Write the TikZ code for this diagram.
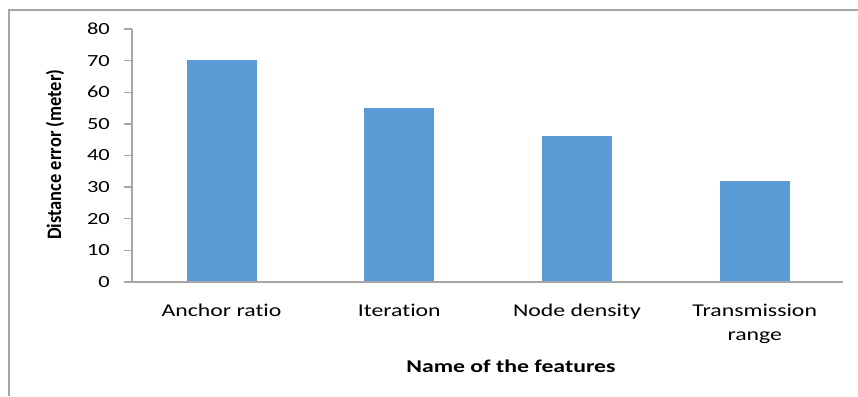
\documentclass[tikz,border=0pt]{standalone}
\usepackage{fontspec}
\setmainfont{Carlito}
\newfontfamily\widefont{Carlito}[FakeStretch=1.32,Ligatures=CommonOff]
\newfontfamily\narrowfont{Carlito}[FakeStretch=0.9,Ligatures=CommonOff]
\usetikzlibrary{positioning}
\definecolor{barblue}{RGB}{91,155,213}
\definecolor{axisgray}{RGB}{166,166,166}

\begin{document}
\begin{tikzpicture}[x=1pt,y=1pt,
    axisline/.style={draw=axisgray,line width=1.3pt},
    databar/.style={fill=barblue,inner sep=0pt,minimum width=70pt,anchor=south},
    ticklbl/.style={font=\widefont\fontsize{17}{20}\selectfont,anchor=east,inner sep=0pt},
    catlbl/.style={font=\widefont\fontsize{18}{24}\selectfont,align=center,inner sep=0pt},
    axistitle/.style={font=\widefont\fontsize{18}{20}\selectfont\bfseries,inner sep=0pt}]
  \useasboundingbox (0,0) rectangle (858,396);
  % frame
  \draw[axisgray,line width=1.2pt] (9,0) -- (9,386) -- (858,386);

  \coordinate (O) at (132,114);
  \coordinate (Xend) at (843,114);
  \coordinate (Ytop) at (132,367);

  % bars and category labels
  \foreach \i/\nm/\val/\lab in {0/anchor/70/Anchor ratio,1/iter/55/Iteration,
      2/density/46/Node density,3/range/32/{Transmission\\range}} {
    \node[databar,minimum height=\val*3.1625] (\nm) at (221.5+\i*177.75,114) {};
    \node[catlbl,below=22pt of \nm.south,anchor=north] (\nm lbl) {\lab};
  }

  % axes and ticks
  \draw[axisline] (O) -- (Xend);
  \draw[axisline] (O) -- (Ytop);
  \foreach \v in {0,10,...,80} {
    \draw[axisline] (124,114+\v*3.1625) -- (132,114+\v*3.1625);
    \node[ticklbl] (tick\v) at (110,114+\v*3.1625) {\v};
  }

  % axis titles
  \node[axistitle] (xtitle) at (511,30) {Name of the features};
  \node[axistitle,font=\narrowfont\fontsize{20.5}{22}\selectfont\bfseries,
    rotate=90,anchor=west] (ytitle) at (55,156) {Distance error (meter)};
\end{tikzpicture}
\end{document}
